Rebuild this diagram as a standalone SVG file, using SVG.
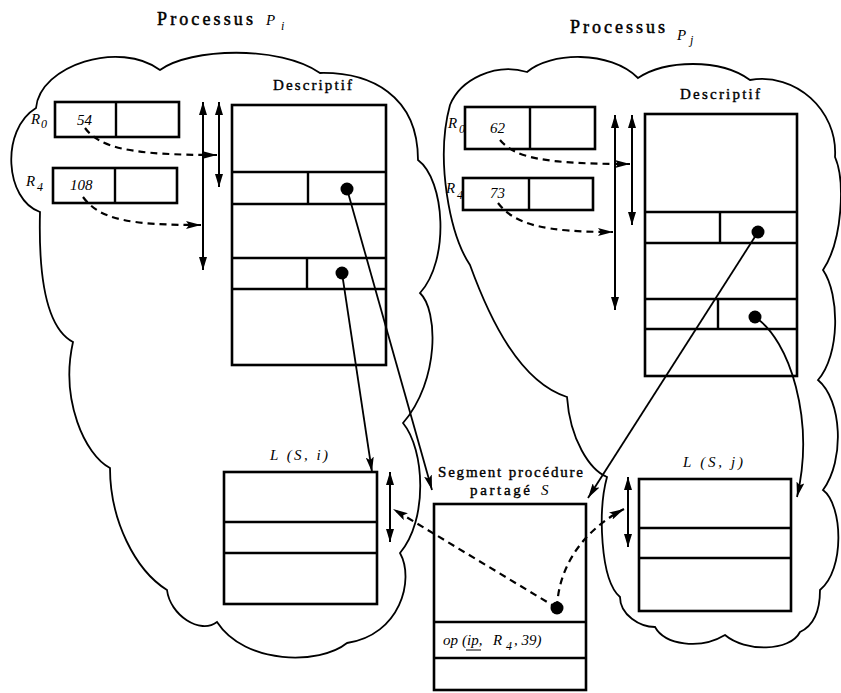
<svg xmlns="http://www.w3.org/2000/svg" width="841" height="693" viewBox="0 0 841 693">
  <style>
    .cloud { fill: none; stroke: #000; stroke-width: 1.8; stroke-linejoin: miter; }
    .box { fill: none; stroke: #000; stroke-width: 2.6; }
    .sep { stroke: #000; stroke-width: 2.4; }
    .dot { fill: #000; }
    .link { fill: none; stroke: #000; stroke-width: 1.8; marker-end: url(#head); }
    .dash { fill: none; stroke: #000; stroke-width: 2.2; stroke-dasharray: 7 5; marker-end: url(#head); }
    .span { fill: none; stroke: #000; stroke-width: 2; marker-start: url(#head2); marker-end: url(#head2); }
    .title { font-family: "Liberation Serif", serif; font-size: 18px; fill: #000; stroke: #000; stroke-width: 0.5; }
    .lbl { font-family: "Liberation Serif", serif; font-size: 15px; fill: #000; stroke: #000; stroke-width: 0.4; }
    .it { font-family: "Liberation Serif", serif; font-style: italic; font-size: 15px; fill: #000; }
    .sub { font-family: "Liberation Serif", serif; font-style: italic; font-size: 12px; fill: #000; }
  </style>
  <defs>
    <marker id="head" viewBox="0 0 15 8" refX="15" refY="4" markerWidth="15" markerHeight="8" orient="auto" markerUnits="userSpaceOnUse">
      <path d="M0,0 L15,4 L0,8 L3,4 Z" fill="#000"/>
    </marker>
    <marker id="head2" viewBox="0 0 13 8" refX="13" refY="4" markerWidth="13" markerHeight="8" orient="auto-start-reverse" markerUnits="userSpaceOnUse">
      <path d="M0,0 L13,4 L0,8 Z" fill="#000"/>
    </marker>
  </defs>

  <!-- process outlines -->
  <g id="process-i">
    <path class="cloud" d="M36,108 C40,65 120,40 160,70 C190,48 280,45 320,73 C370,72 418,95 418,160 C445,180 450,260 420,293 C438,310 440,380 403,423 C425,450 428,520 400,553 C415,580 400,635 347,643 C320,665 245,665 217,622 C200,635 170,615 167,590 C135,570 110,520 110,468 C85,455 60,400 73,342 C50,330 38,290 40,212 C5,200 0,130 36,108 Z"/>
    <text class="title" x="157" y="25" textLength="96" lengthAdjust="spacing">Processus</text>
    <text class="it" x="266" y="25" font-size="19">P</text>
    <text class="sub" x="281" y="30">i</text>
  </g>
  <g id="process-j">
    <path class="cloud" d="M527,72 C550,52 610,50 638,78 C665,60 720,58 750,80 C795,72 838,110 835,157 C845,180 843,240 823,270 C840,295 840,355 818,380 C842,400 845,460 823,490 C843,505 845,570 820,590 C820,610 815,625 800,632 C790,652 745,652 725,635 C700,650 665,645 655,627 C640,627 620,615 620,597 C600,580 598,510 607,477 C590,470 570,440 567,397 C520,382 490,320 470,265 C450,235 435,160 450,105 C460,80 495,62 527,72 Z"/>
    <text class="title" x="570" y="33" textLength="95" lengthAdjust="spacing">Processus</text>
    <text class="it" x="677" y="40" font-size="18">P</text>
    <text class="sub" x="690" y="44">j</text>
  </g>

  <!-- registers of Pi -->
  <g id="reg-i-r0">
    <rect class="box" x="55" y="102" width="124" height="35"/>
    <line class="sep" x1="116" y1="102" x2="116" y2="137"/>
    <text class="it" x="31" y="124">R</text>
    <text class="sub" x="41" y="128">0</text>
    <text class="it" x="77" y="125">54</text>
  </g>
  <g id="reg-i-r4">
    <rect class="box" x="53" y="168" width="124" height="35"/>
    <line class="sep" x1="115" y1="168" x2="115" y2="203"/>
    <text class="it" x="26" y="186">R</text>
    <text class="sub" x="37" y="191">4</text>
    <text class="it" x="70" y="190">108</text>
  </g>

  <!-- descriptor of Pi -->
  <g id="desc-i">
    <text class="lbl" x="273" y="90" textLength="79" lengthAdjust="spacing">Descriptif</text>
    <rect class="box" x="232" y="105" width="154" height="260"/>
    <line class="sep" x1="232" y1="172" x2="386" y2="172"/>
    <line class="sep" x1="232" y1="204" x2="386" y2="204"/>
    <line class="sep" x1="308" y1="172" x2="308" y2="204"/>
    <line class="sep" x1="232" y1="258" x2="386" y2="258"/>
    <line class="sep" x1="232" y1="289" x2="386" y2="289"/>
    <line class="sep" x1="307" y1="258" x2="307" y2="289"/>
    <circle class="dot" cx="347" cy="189" r="6.5"/>
    <circle class="dot" cx="342" cy="273" r="6.5"/>
  </g>

  <!-- registers of Pj -->
  <g id="reg-j-r0">
    <rect class="box" x="465" y="107" width="130" height="42"/>
    <line class="sep" x1="530" y1="107" x2="530" y2="149"/>
    <text class="it" x="448" y="128">R</text>
    <text class="sub" x="459" y="133">0</text>
    <text class="it" x="490" y="133">62</text>
  </g>
  <g id="reg-j-r4">
    <rect class="box" x="463" y="178" width="130" height="32"/>
    <line class="sep" x1="529" y1="178" x2="529" y2="210"/>
    <text class="it" x="446" y="193">R</text>
    <text class="sub" x="457" y="199">4</text>
    <text class="it" x="490" y="198">73</text>
  </g>

  <!-- descriptor of Pj -->
  <g id="desc-j">
    <text class="lbl" x="680" y="99" textLength="80" lengthAdjust="spacing">Descriptif</text>
    <rect class="box" x="645" y="114" width="152" height="262"/>
    <line class="sep" x1="645" y1="212" x2="797" y2="212"/>
    <line class="sep" x1="645" y1="243" x2="797" y2="243"/>
    <line class="sep" x1="720" y1="212" x2="720" y2="243"/>
    <line class="sep" x1="645" y1="299" x2="797" y2="299"/>
    <line class="sep" x1="645" y1="329" x2="797" y2="329"/>
    <line class="sep" x1="718" y1="299" x2="718" y2="329"/>
    <circle class="dot" cx="758" cy="232" r="6.5"/>
    <circle class="dot" cx="755" cy="317" r="6.5"/>
  </g>

  <!-- linkage segment L(S, i) -->
  <g id="link-i">
    <text class="it" x="270" y="460" textLength="58" lengthAdjust="spacing">L (S, i)</text>
    <rect class="box" x="224" y="472" width="153" height="132"/>
    <line class="sep" x1="224" y1="522" x2="377" y2="522"/>
    <line class="sep" x1="224" y1="553" x2="377" y2="553"/>
  </g>

  <!-- shared procedure segment S -->
  <g id="segment-s">
    <text class="lbl" x="438" y="477" textLength="145" lengthAdjust="spacing">Segment procédure</text>
    <text class="lbl" x="470" y="495" textLength="60" lengthAdjust="spacing">partagé</text>
    <text class="it" x="541" y="495" font-size="17">S</text>
    <rect class="box" x="434" y="504" width="152" height="186"/>
    <line class="sep" x1="434" y1="622" x2="586" y2="622"/>
    <line class="sep" x1="434" y1="658" x2="586" y2="658"/>
    <circle class="dot" cx="557" cy="608" r="6.5"/>
    <text class="it" font-size="15" y="645"><tspan x="443">op</tspan><tspan x="462">(ip,</tspan><tspan x="493">R</tspan></text>
    <text class="sub" x="506" y="650">4</text>
    <text class="it" font-size="15" x="514" y="645">, 39)</text>
    <line x1="466" y1="650" x2="481" y2="650" stroke="#000" stroke-width="1"/>
  </g>

  <!-- linkage segment L(S, j) -->
  <g id="link-j">
    <text class="it" x="683" y="467" textLength="60" lengthAdjust="spacing">L (S, j)</text>
    <rect class="box" x="639" y="479" width="152" height="132"/>
    <line class="sep" x1="639" y1="528" x2="791" y2="528"/>
    <line class="sep" x1="639" y1="558" x2="791" y2="558"/>
  </g>

  <!-- connectors -->
  <g id="connectors">
    <!-- extents addressed through base registers -->
    <line class="span" x1="203" y1="102" x2="203" y2="270"/>
    <line class="span" x1="219" y1="102" x2="219" y2="187"/>
    <line class="span" x1="615" y1="115" x2="615" y2="310"/>
    <line class="span" x1="632" y1="115" x2="632" y2="225"/>
    <line class="span" x1="390" y1="472" x2="390" y2="542"/>
    <line class="span" x1="628" y1="477" x2="628" y2="547"/>

    <!-- register contents as addresses -->
    <path class="dash" d="M85,128 C100,148 130,155 217,155"/>
    <path class="dash" d="M83,197 C100,220 130,225 201,225"/>
    <path class="dash" d="M500,140 C515,158 545,164 630,164"/>
    <path class="dash" d="M498,203 C515,225 545,232 613,232"/>
    <path class="dash" d="M557,608 L393,509"/>
    <path class="dash" d="M557,608 C558,575 575,535 624,509"/>

    <!-- descriptor pointers -->
    <path class="link" d="M347,189 L432,490"/>
    <path class="link" d="M342,273 L372,472"/>
    <path class="link" d="M758,232 L588,498"/>
    <path class="link" d="M755,317 C790,340 815,420 797,497"/>
  </g>
</svg>
